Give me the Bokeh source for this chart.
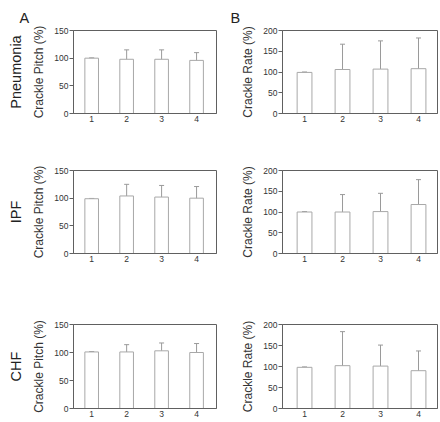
from bokeh.plotting import figure
from bokeh.layouts import column, row
from bokeh.models import ColumnDataSource, Whisker, TeeHead, FixedTicker, Range1d, Title
from bokeh.embed import file_html
from bokeh.resources import INLINE

# ---- data ----
groups = [1, 2, 3, 4]
tick_labels = ["1", "2", "3", "4"]
diseases = ["Pneumonia", "IPF", "CHF"]
column_letters = ["A", "B"]

pitch_pneumonia_mean = [100, 98, 98, 96]
pitch_pneumonia_sd = [0.5, 17, 17, 14]
rate_pneumonia_mean = [99, 106, 107, 108]
rate_pneumonia_sd = [1, 61, 68, 74]

pitch_ipf_mean = [99, 104, 102, 100]
pitch_ipf_sd = [0.5, 21, 21, 21]
rate_ipf_mean = [100, 100, 101, 118]
rate_ipf_sd = [1, 42, 44, 60]

pitch_chf_mean = [101, 101, 103, 100]
pitch_chf_sd = [0.5, 13, 14, 16]
rate_chf_mean = [98, 102, 101, 90]
rate_chf_sd = [1, 81, 50, 47]

pitch_ticks = [0, 50, 100, 150]
rate_ticks = [0, 50, 100, 150, 200]

FONT = "Liberation Sans"
FRAME = "#606060"
BAR = "#a8a8a8"
ERR = "#9a9a9a"
TXT = "#333333"


def panel(width, height, bl, br, bt, bb, xr, ymax, yticks, ylabel, means, sds):
    p = figure(width=width, height=height, x_range=Range1d(*xr), y_range=Range1d(0, ymax),
               output_backend="svg", toolbar_location=None,
               min_border_left=bl, min_border_right=br, min_border_top=bt, min_border_bottom=bb)
    upper = [m + s for m, s in zip(means, sds)]
    lower = [m - s for m, s in zip(means, sds)]
    src = ColumnDataSource(dict(x=groups, top=means, upper=upper, lower=lower))
    p.vbar(x="x", top="top", width=0.39, fill_color="white", line_color=BAR, line_width=1, source=src)
    p.add_layout(Whisker(source=src, base="x", upper="upper", lower="lower", line_color=ERR, line_width=1,
                         upper_head=TeeHead(size=5, line_color=ERR, line_width=1),
                         lower_head=TeeHead(size=5, line_color=ERR, line_width=1)))
    p.grid.visible = False
    p.outline_line_color = FRAME
    p.outline_line_width = 1
    p.background_fill_color = "white"
    p.border_fill_color = "white"
    # x axis
    p.xaxis.ticker = FixedTicker(ticks=groups)
    p.xaxis.major_label_overrides = {g: t for g, t in zip(groups, tick_labels)}
    p.xaxis.major_tick_out = 0
    p.xaxis.major_tick_in = 0
    p.xaxis.minor_tick_line_color = None
    p.xaxis.major_label_standoff = 2
    # y axis
    p.yaxis.ticker = FixedTicker(ticks=yticks)
    p.yaxis.minor_tick_line_color = None
    p.yaxis.major_tick_in = 0
    p.yaxis.major_tick_out = 4
    p.yaxis.major_label_standoff = 1
    p.yaxis.axis_label = ylabel
    p.yaxis.axis_label_standoff = 5
    p.yaxis.axis_label_text_font = FONT
    p.yaxis.axis_label_text_font_size = "12px"
    p.yaxis.axis_label_text_font_style = "normal"
    p.yaxis.axis_label_text_color = TXT
    for ax in (p.xaxis, p.yaxis):
        ax.axis_line_color = FRAME
        ax.major_label_text_font = FONT
        ax.major_label_text_font_size = "8.5px"
        ax.major_label_text_color = TXT
    p.yaxis.major_tick_line_color = FRAME
    p.xaxis.major_tick_line_color = None
    return p


def title(text, align, offset, standoff):
    return Title(text=text, align=align, offset=offset, standoff=standoff,
                 text_font=FONT, text_font_size="14.5px", text_font_style="normal",
                 text_color="#222222")


rows_spec = [
    (150, 30, 37, pitch_pneumonia_mean, pitch_pneumonia_sd, rate_pneumonia_mean, rate_pneumonia_sd),
    (140, 20, 37, pitch_ipf_mean, pitch_ipf_sd, rate_ipf_mean, rate_ipf_sd),
    (132, 34, 14, pitch_chf_mean, pitch_chf_sd, rate_chf_mean, rate_chf_sd),
]

rows = []
for i, (h, bt, bb, pm, ps, rm, rs) in enumerate(rows_spec):
    pa = panel(224, h, 66, 8, bt, bb, (0.48, 4.57), 150, pitch_ticks, "Crackle Pitch (%)", pm, ps)
    pb = panel(216, h, 58, 3, bt, bb, (0.42, 4.5), 200, rate_ticks, "Crackle Rate (%)", rm, rs)
    pa.add_layout(title(diseases[i], "center", 0, 11), "left")
    if i == 0:
        pa.add_layout(title(column_letters[0], "left", -54, 10), "above")
        pb.add_layout(title(column_letters[1], "left", -52, 10), "above")
    rows.append(row(pa, pb))

layout = column(*rows)
open("out.html", "w").write(file_html(layout, INLINE))
